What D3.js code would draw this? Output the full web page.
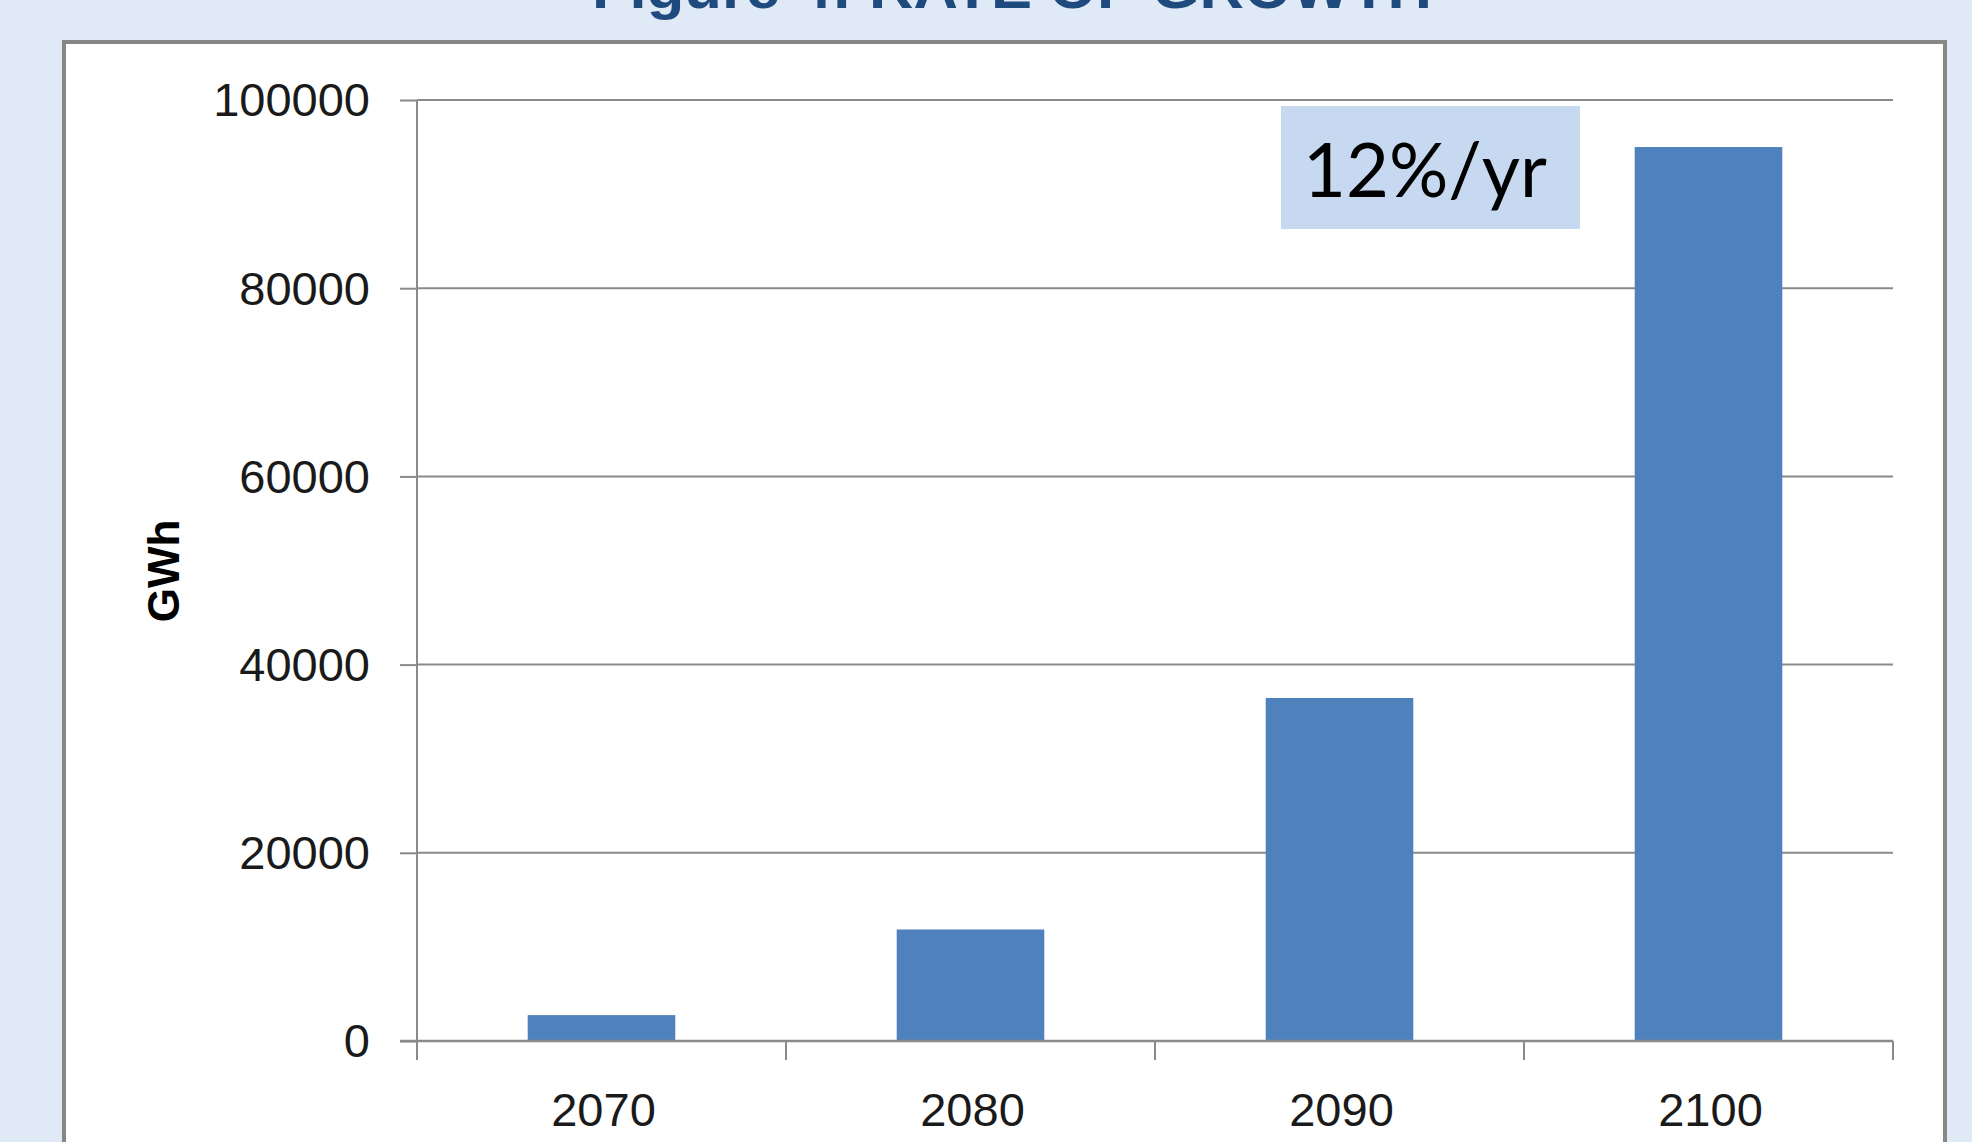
<!DOCTYPE html>
<html>
<head>
<meta charset="utf-8">
<script src="https://cdn.jsdelivr.net/npm/d3@7"></script>
<style>
  html, body { margin: 0; padding: 0; background: #E0EAF7; }
  svg { display: block; }
</style>
</head>
<body>
<svg id="chart" width="1972" height="1142"></svg>
<script>
// Annual generation by decade (GWh)
const years = ["2070", "2080", "2090", "2100"];
const gwh = [2750, 11850, 36450, 95000];
const yTicks = [0, 20000, 40000, 60000, 80000, 100000];
const titleText = "Figure 4: RATE OF GROWTH";
const yAxisTitle = "GWh";
const growthNote = "12%/yr";

const svg = d3.select("#chart");
const W = 1972, H = 1142;

// page background
svg.append("rect").attr("width", W).attr("height", H).attr("fill", "#E0EAF7");

// heading (runs off the top of the page)
svg.append("text")
  .attr("x", 1012).attr("y", 8)
  .attr("text-anchor", "middle")
  .attr("font-family", "Liberation Sans, Arial, sans-serif")
  .attr("font-weight", "bold")
  .attr("font-size", 58)
  .attr("fill", "#1F4A7E")
  .attr("textLength", 840)
  .attr("lengthAdjust", "spacingAndGlyphs")
  .text(titleText);

// white chart panel with grey frame
svg.append("rect")
  .attr("x", 64).attr("y", 42)
  .attr("width", 1881).attr("height", 1200)
  .attr("fill", "#FFFFFF")
  .attr("stroke", "#878787")
  .attr("stroke-width", 4);

const plot = { left: 417, right: 1893, top: 100, bottom: 1041 };

const x = d3.scaleBand()
  .domain(years)
  .range([plot.left, plot.right])
  .paddingInner(0.6)
  .paddingOuter(0.3);

const y = d3.scaleLinear()
  .domain([0, 100000])
  .range([plot.bottom, plot.top]);

const fontTicks = "Liberation Sans, Arial, sans-serif";

// horizontal gridlines
svg.append("g")
  .selectAll("line")
  .data(yTicks.filter(d => d > 0))
  .join("line")
  .attr("x1", plot.left).attr("x2", plot.right)
  .attr("y1", d => y(d)).attr("y2", d => y(d))
  .attr("stroke", "#8A8A8A")
  .attr("stroke-width", 2);

// bars
svg.append("g")
  .selectAll("rect")
  .data(years.map((yr, i) => ({ yr, v: gwh[i] })))
  .join("rect")
  .attr("x", d => x(d.yr))
  .attr("width", x.bandwidth())
  .attr("y", d => y(d.v))
  .attr("height", d => y(0) - y(d.v))
  .attr("fill", "#4F81BD");

// y axis
const yAxis = d3.axisLeft(y)
  .tickValues(yTicks)
  .tickSize(17)
  .tickPadding(30)
  .tickFormat(d3.format("d"));

const gy = svg.append("g")
  .attr("transform", `translate(${plot.left},0)`)
  .call(yAxis);
gy.select(".domain").attr("stroke", "#8A8A8A").attr("stroke-width", 2)
  .attr("d", `M0,${plot.top}V${plot.bottom}`);
gy.selectAll(".tick line").attr("stroke", "#8A8A8A").attr("stroke-width", 2);
gy.selectAll(".tick text")
  .attr("font-family", fontTicks)
  .attr("font-size", 47)
  .attr("fill", "#1A1A1A")
  .attr("dy", "0.34em");

// x axis: category boundaries carry the ticks
const xAxisG = svg.append("g");
xAxisG.append("line")
  .attr("x1", plot.left - 17).attr("x2", plot.right)
  .attr("y1", y(0)).attr("y2", y(0))
  .attr("stroke", "#8A8A8A").attr("stroke-width", 2.5);
const boundaries = years.map(d => x(d) - x.step() * 0.3).concat([plot.right]);
xAxisG.selectAll("line.tick")
  .data(boundaries)
  .join("line")
  .attr("class", "tick")
  .attr("x1", d => d).attr("x2", d => d)
  .attr("y1", y(0)).attr("y2", y(0) + 19)
  .attr("stroke", "#8A8A8A").attr("stroke-width", 2);
xAxisG.selectAll("text")
  .data(years)
  .join("text")
  .attr("x", d => x(d) + x.bandwidth() / 2 + 2)
  .attr("y", 1126)
  .attr("text-anchor", "middle")
  .attr("font-family", fontTicks)
  .attr("font-size", 47)
  .attr("fill", "#1A1A1A")
  .text(d => d);

// y axis title
svg.append("text")
  .attr("transform", "translate(179,571) rotate(-90)")
  .attr("text-anchor", "middle")
  .attr("font-family", fontTicks)
  .attr("font-weight", "bold")
  .attr("font-size", 44)
  .attr("fill", "#000000")
  .text(yAxisTitle);

// growth-rate callout
svg.append("rect")
  .attr("x", 1281).attr("y", 106)
  .attr("width", 299).attr("height", 123)
  .attr("fill", "#C6D9F1");
svg.append("text")
  .attr("x", 1303).attr("y", 197)
  .attr("font-family", "Lato, sans-serif")
  .attr("font-size", 76)
  .attr("fill", "#000000")
  .attr("textLength", 244)
  .attr("lengthAdjust", "spacingAndGlyphs")
  .text(growthNote);
</script>
</body>
</html>
